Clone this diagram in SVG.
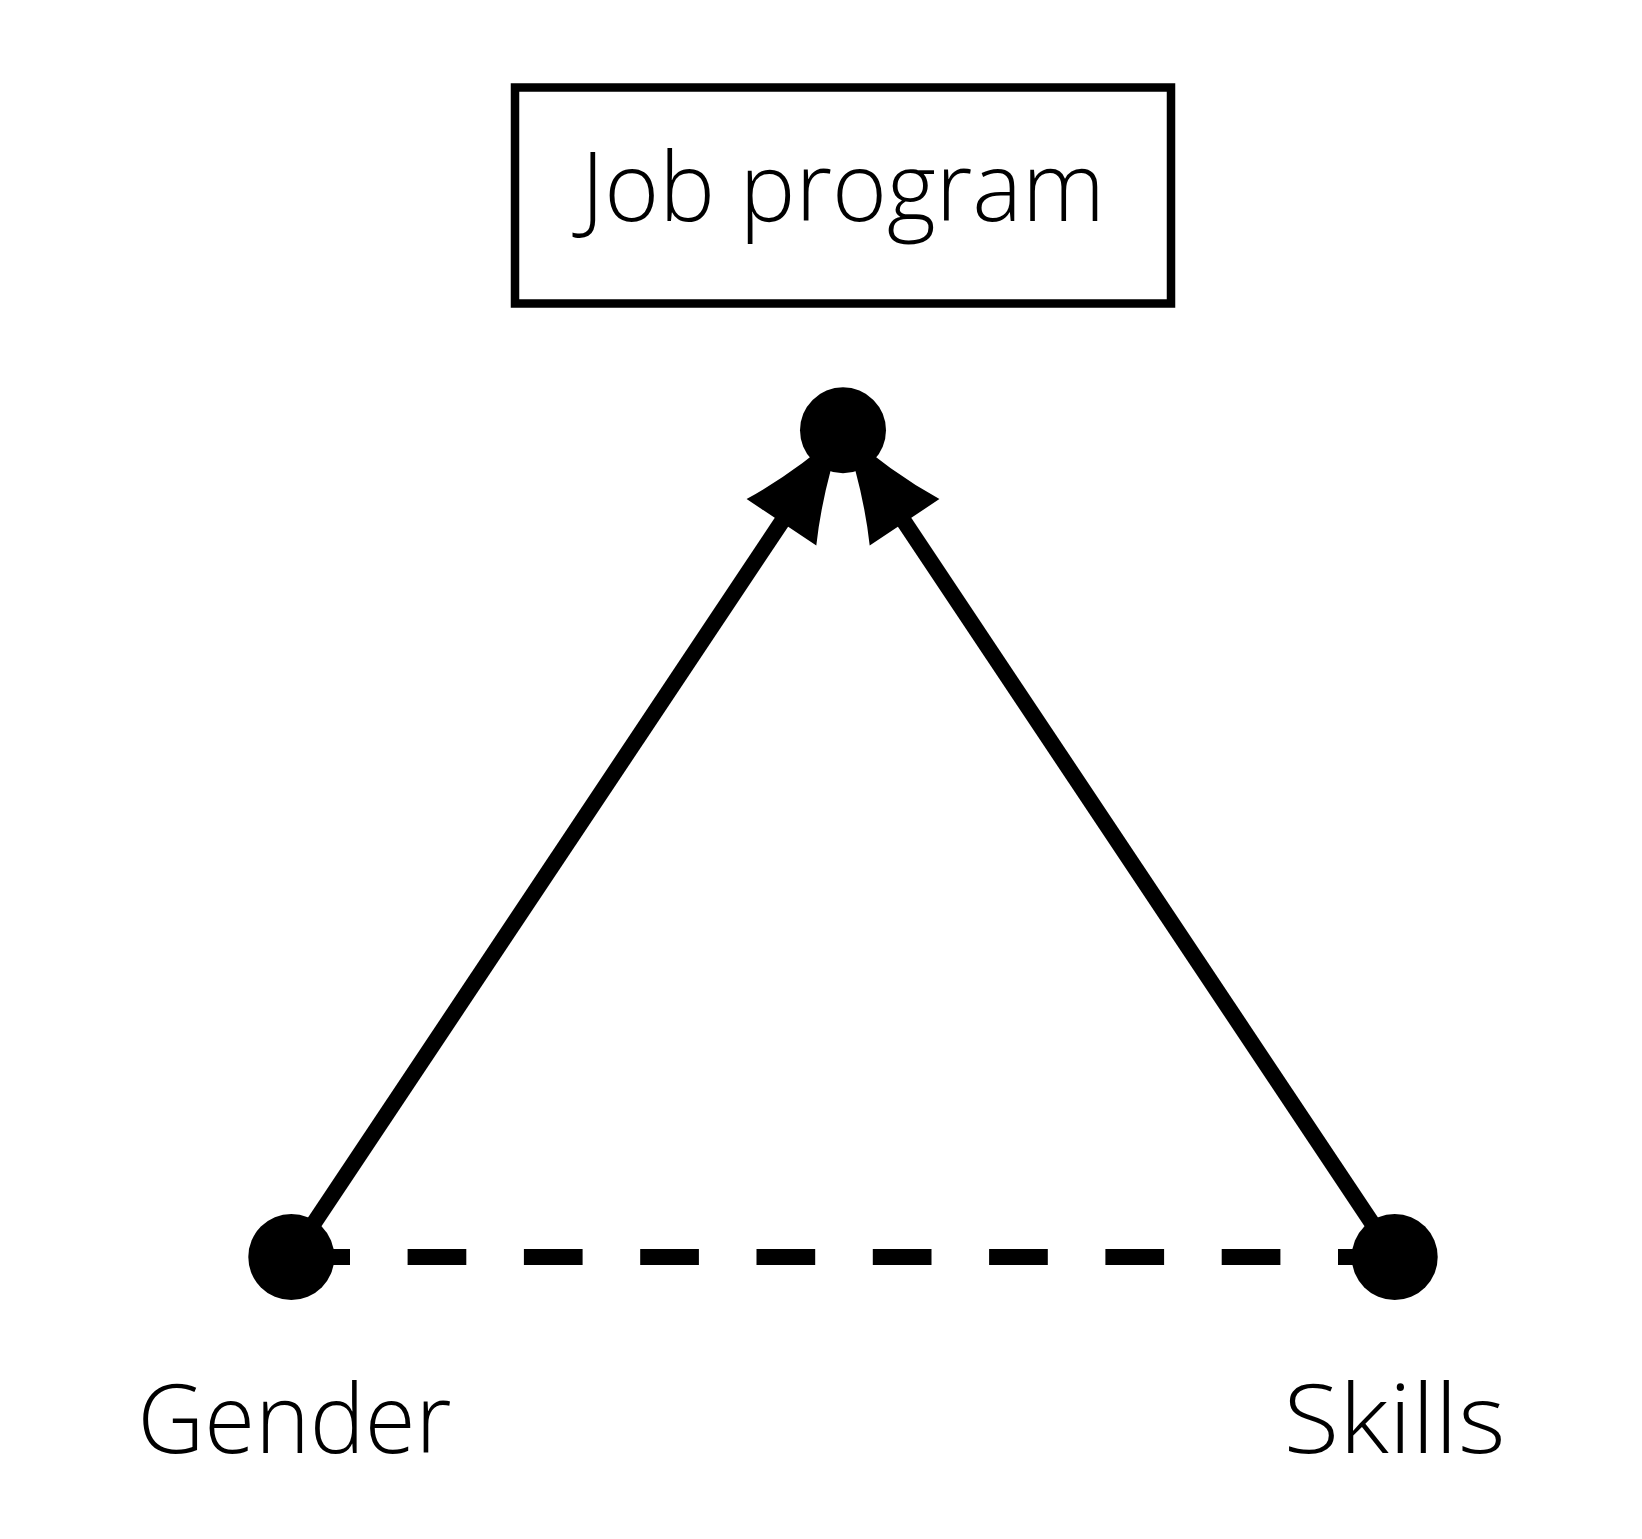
<svg xmlns="http://www.w3.org/2000/svg" width="1642" height="1539" viewBox="0 0 1642 1539">
  <style>
    .dot { fill: #000; }
    .edge { fill: none; stroke: #000; stroke-width: 16; stroke-linecap: butt; }
    .dashed { stroke-dasharray: 58.7 57.6; }
    .box { fill: #fff; stroke: #000; stroke-width: 8.5; }
    .lbl { font-family: "Open Sans", "Noto Sans", "Liberation Sans", sans-serif; font-weight: 300; font-size: 95px; fill: #000; text-anchor: middle; }
  </style>
  <defs>
    <marker id="arrow" markerUnits="userSpaceOnUse" viewBox="-2 -44 116 88" markerWidth="116" markerHeight="88" refX="3" refY="0" orient="auto" overflow="visible">
      <path d="M111,0 Q50,-16 0,-41.9 L0,41.9 Q50,16 111,0 Z" fill="#000"/>
    </marker>
  </defs>
  <rect width="1642" height="1539" fill="#fff"/>
  <g id="connectors">
    <line class="edge" x1="291.3" y1="1257" x2="783.1" y2="519.8" marker-end="url(#arrow)"/>
    <line class="edge" x1="1394.7" y1="1257" x2="902.9" y2="519.8" marker-end="url(#arrow)"/>
    <line class="edge dashed" x1="291.3" y1="1257" x2="1394.7" y2="1257"/>
  </g>
  <g id="node-job-program">
    <rect class="box" x="515" y="87.5" width="656" height="216"/>
    <text class="lbl" x="843" y="220.7" textLength="524" lengthAdjust="spacingAndGlyphs">Job program</text>
    <circle class="dot" cx="843" cy="430.3" r="43"/>
  </g>
  <g id="node-gender">
    <circle class="dot" cx="291.3" cy="1257" r="43"/>
    <text class="lbl" x="294.5" y="1453.3" textLength="314" lengthAdjust="spacingAndGlyphs">Gender</text>
  </g>
  <g id="node-skills">
    <circle class="dot" cx="1394.7" cy="1257" r="43"/>
    <text class="lbl" x="1394.5" y="1453.3" textLength="222" lengthAdjust="spacingAndGlyphs">Skills</text>
  </g>
</svg>
